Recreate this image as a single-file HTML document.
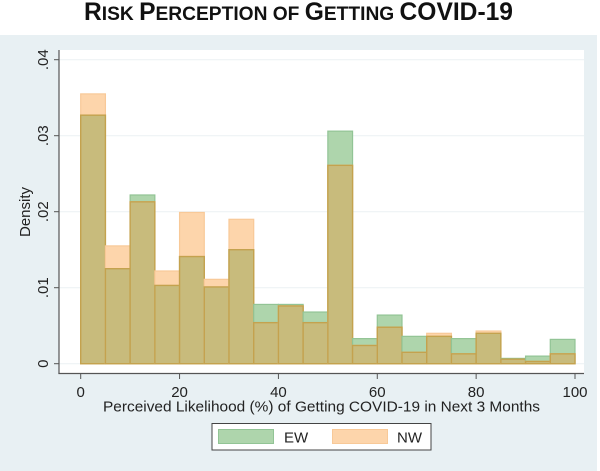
<!DOCTYPE html>
<html>
<head>
<meta charset="utf-8">
<style>
html,body{margin:0;padding:0;background:#fff;width:600px;height:471px;overflow:hidden}
svg{display:block;font-family:"Liberation Sans",sans-serif;filter:blur(0.35px)}
</style>
</head>
<body>
<svg id="chart" xmlns="http://www.w3.org/2000/svg" width="600" height="471" viewBox="0 0 600 471">
  <rect x="0" y="0" width="600" height="471" fill="#ffffff"/>
  <text x="84" y="20" font-size="25" font-weight="bold" fill="#111" textLength="429" lengthAdjust="spacingAndGlyphs">R<tspan font-size="19.5">ISK </tspan>P<tspan font-size="19.5">ERCEPTION OF </tspan>G<tspan font-size="19.5">ETTING </tspan>COVID-19</text>
  <rect x="0" y="35" width="597" height="436" fill="#e8f0f3"/>
  <rect x="59" y="50" width="525" height="323.5" fill="#ffffff"/>
  <g id="grid"></g>
  <g id="bars"></g>
  <g id="axes"></g>
  <text transform="translate(30,212) rotate(-90)" text-anchor="middle" font-size="15" fill="#222">Density</text>
  <text x="321.5" y="411.5" text-anchor="middle" font-size="14.5" fill="#222" textLength="437" lengthAdjust="spacingAndGlyphs">Perceived Likelihood (%) of Getting COVID-19 in Next 3 Months</text>
  <g>
    <rect x="212" y="423.5" width="219" height="26.5" fill="#ffffff" stroke="#444" stroke-width="1"/>
    <rect x="218.5" y="429.5" width="55" height="14" fill="#aed5ac" stroke="#92c495" stroke-width="1"/>
    <text x="284" y="442.5" font-size="15" fill="#222">EW</text>
    <rect x="332.5" y="429.5" width="55" height="14" fill="#fdd5ab" stroke="#f8c998" stroke-width="1"/>
    <text x="397" y="442.5" font-size="15" fill="#222">NW</text>
  </g>
</svg>
<script>
const binStarts = [0,5,10,15,20,25,30,35,40,45,50,55,60,65,70,75,80,85,90,95];
const ewDensity = [.0327,.0125,.0222,.0103,.0141,.0101,.0150,.0078,.0078,.0068,.0306,.0033,.0064,.0036,.0036,.0033,.0040,.0007,.0010,.0032];
const nwDensity = [.0355,.0155,.0213,.0122,.0199,.0111,.0190,.0054,.0076,.0054,.0261,.0024,.0048,.0015,.0040,.0013,.0043,.0006,.0003,.0013];
const binWidth = 5;
const xTickValues = [0,20,40,60,80,100];
const yTickValues = [0,.01,.02,.03,.04];
const yTickLabels = ['0','.01','.02','.03','.04'];

const NS = 'http://www.w3.org/2000/svg';
function xScale(v){ return 80.7 + v * 4.943; }
function yScale(v){ return 363.7 - v * 7600; }
function make(tag, attrs, parent){
  const el = document.createElementNS(NS, tag);
  for (const k in attrs) el.setAttribute(k, attrs[k]);
  parent.appendChild(el);
  return el;
}
const grid = document.getElementById('grid');
const bars = document.getElementById('bars');
const axes = document.getElementById('axes');

yTickValues.forEach(function(v, i){
  const line = make('line', {x1:59, x2:584, y1:yScale(v), y2:yScale(v), stroke:'#eef3f4', 'stroke-width':1.2}, grid);
  
  
  const tick = make('line', {x1:54, x2:59, y1:yScale(v), y2:yScale(v), stroke:'#555', 'stroke-width':1}, axes);
  
  
  const label = make('text', {transform:'translate(48,' + yScale(v) + ') rotate(-90)', 'text-anchor':'middle', 'font-size':15, fill:'#222'}, axes);
  
  
  label.textContent = yTickLabels[i];
});

xTickValues.forEach(function(v){
  const tick = make('line', {x1:xScale(v), x2:xScale(v), y1:373.5, y2:379, stroke:'#555', 'stroke-width':1}, axes);
  
  
  const label = make('text', {x:xScale(v), y:397, 'text-anchor':'middle', 'font-size':15, fill:'#222'}, axes);
  
  
  label.textContent = String(v);
});

const yAxis = make('line', {x1:59, x2:59, y1:50, y2:374, stroke:'#555', 'stroke-width':1.2}, axes);


const xAxis = make('line', {x1:58.4, x2:584, y1:373.5, y2:373.5, stroke:'#555', 'stroke-width':1.2}, axes);



function drawBar(start, value, fill, stroke, name, width){
  const x0 = xScale(start);
  const x1 = xScale(start + binWidth);
  const y0 = yScale(value);
  const y1 = yScale(0);
  const r = make('rect', {x:x0, y:y0, width:x1 - x0, height:y1 - y0, fill:fill, stroke:stroke, 'stroke-width':width}, bars);
  
  
}
binStarts.forEach(function(s, i){
  drawBar(s, ewDensity[i], '#aed5ac', '#92c495', 'bar-ew', 1.2);
  drawBar(s, nwDensity[i], '#fdd5ab', '#f8c998', 'bar-nw', 1.2);
  drawBar(s, Math.min(ewDensity[i], nwDensity[i]), '#c8bb7c', '#c4a24e', 'bar-overlap', 1.4);
});
</script>
</body>
</html>
